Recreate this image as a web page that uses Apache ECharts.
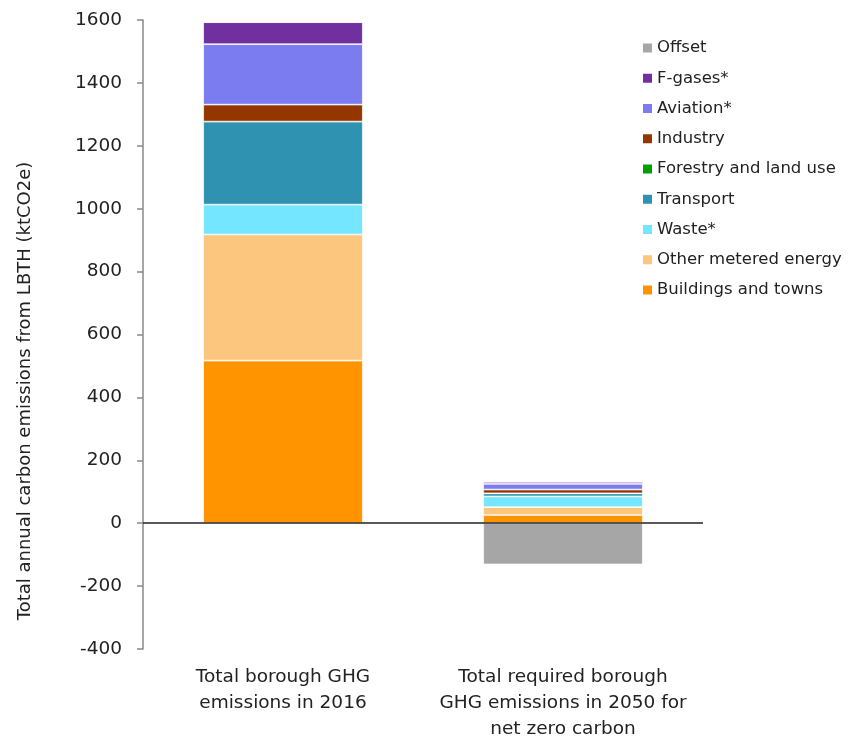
<!DOCTYPE html>
<html>
<head>
<meta charset="utf-8">
<script src="https://cdn.jsdelivr.net/npm/echarts@6/dist/echarts.min.js"></script>
<style>
  html, body { margin: 0; padding: 0; background: #ffffff; }
  #chart { width: 852px; height: 740px; }
</style>
</head>
<body>
<div id="chart"></div>
<script>
// Categories on the x axis
const categories = [
  'Total borough GHG\nemissions in 2016',
  'Total required borough\nGHG emissions in 2050 for\nnet zero carbon'
];

// Emission sectors (ktCO2e), stacked from the bottom up
const buildings = [517, 26];
const otherMetered = [401, 25];
const waste = [95, 34];
const transport = [264, 10];
const forestry = [0, 0];
const industry = [54, 12];
const aviation = [192, 18];
const fGases = [70, 6];
const offset = [0, -131];

// Y axis tick range
const yTicks = { min: -400, max: 1600, step: 200 };

const seriesDefs = [
  { name: 'Buildings and towns', data: buildings, color: '#ff9300' },
  { name: 'Other metered energy', data: otherMetered, color: '#fdc67f' },
  { name: 'Waste*', data: waste, color: '#75e6ff' },
  { name: 'Transport', data: transport, color: '#2e92b0' },
  { name: 'Forestry and land use', data: forestry, color: '#00a000' },
  { name: 'Industry', data: industry, color: '#943600' },
  { name: 'Aviation*', data: aviation, color: '#7a7cf0' },
  { name: 'F-gases*', data: fGases, color: '#7030a0' },
  { name: 'Offset', data: offset, color: '#a6a6a6' }
];

const yTitle = 'Total annual carbon emissions from LBTH (ktCO2e)';

const FONT = 'DejaVu Sans';
const TEXT = '#222222';

const chart = echarts.init(document.getElementById('chart'));

const series = seriesDefs.map(s => ({
  name: s.name,
  type: 'bar',
  stack: 'total',
  xAxisIndex: 0,
  barWidth: '57%',
  data: s.data,
  itemStyle: { color: s.color, borderColor: '#ffffff', borderWidth: 0.7 },
  emphasis: { disabled: true }
}));

// Zero baseline across the plot
series[0].markLine = {
  silent: true,
  symbol: 'none',
  label: { show: false },
  lineStyle: { color: '#222222', width: 1.5, type: 'solid' },
  data: [{ yAxis: 0 }]
};

chart.setOption({
  animation: false,
  textStyle: { fontFamily: FONT },
  grid: { left: 143, top: 20, right: 149, bottom: 91, containLabel: false, outerBoundsMode: 'none' },
  legend: {
    orient: 'vertical',
    left: 638,
    top: 33,
    itemWidth: 9,
    itemHeight: 9,
    itemGap: 10.25,
    icon: 'rect',
    itemStyle: { borderWidth: 0 },
    data: seriesDefs.map(s => s.name).reverse(),
    textStyle: { fontFamily: FONT, fontSize: 16.5, color: TEXT, lineHeight: 20 },
    selectedMode: false
  },
  graphic: [{
    type: 'text',
    x: 25,
    y: 391,
    rotation: Math.PI / 2,
    silent: true,
    style: {
      text: yTitle,
      fontFamily: FONT,
      fontSize: 18,
      fill: TEXT,
      textAlign: 'center',
      textVerticalAlign: 'middle'
    }
  }],
  xAxis: [
    {
      type: 'category',
      data: categories,
      axisLine: { show: false },
      axisTick: { show: false },
      axisLabel: { show: false }
    },
    {
      type: 'category',
      data: categories,
      position: 'bottom',
      axisLine: { show: false, onZero: false },
      axisTick: { show: false },
      axisLabel: {
        show: true,
        interval: 0,
        margin: 15,
        color: TEXT,
        fontFamily: FONT,
        fontSize: 18.5,
        lineHeight: 26,
        align: 'center'
      }
    }
  ],
  yAxis: {
    type: 'value',
    min: yTicks.min,
    max: yTicks.max,
    interval: yTicks.step,
    axisLine: { show: true, lineStyle: { color: '#888888', width: 1.5 } },
    axisTick: { show: true, inside: false, length: 6, lineStyle: { color: '#888888', width: 1.5 } },
    axisLabel: {
      margin: 21,
      color: TEXT,
      fontFamily: FONT,
      fontSize: 18.5,
      formatter: v => String(v)
    },
    splitLine: { show: false }
  },
  series: series
});
</script>
</body>
</html>
